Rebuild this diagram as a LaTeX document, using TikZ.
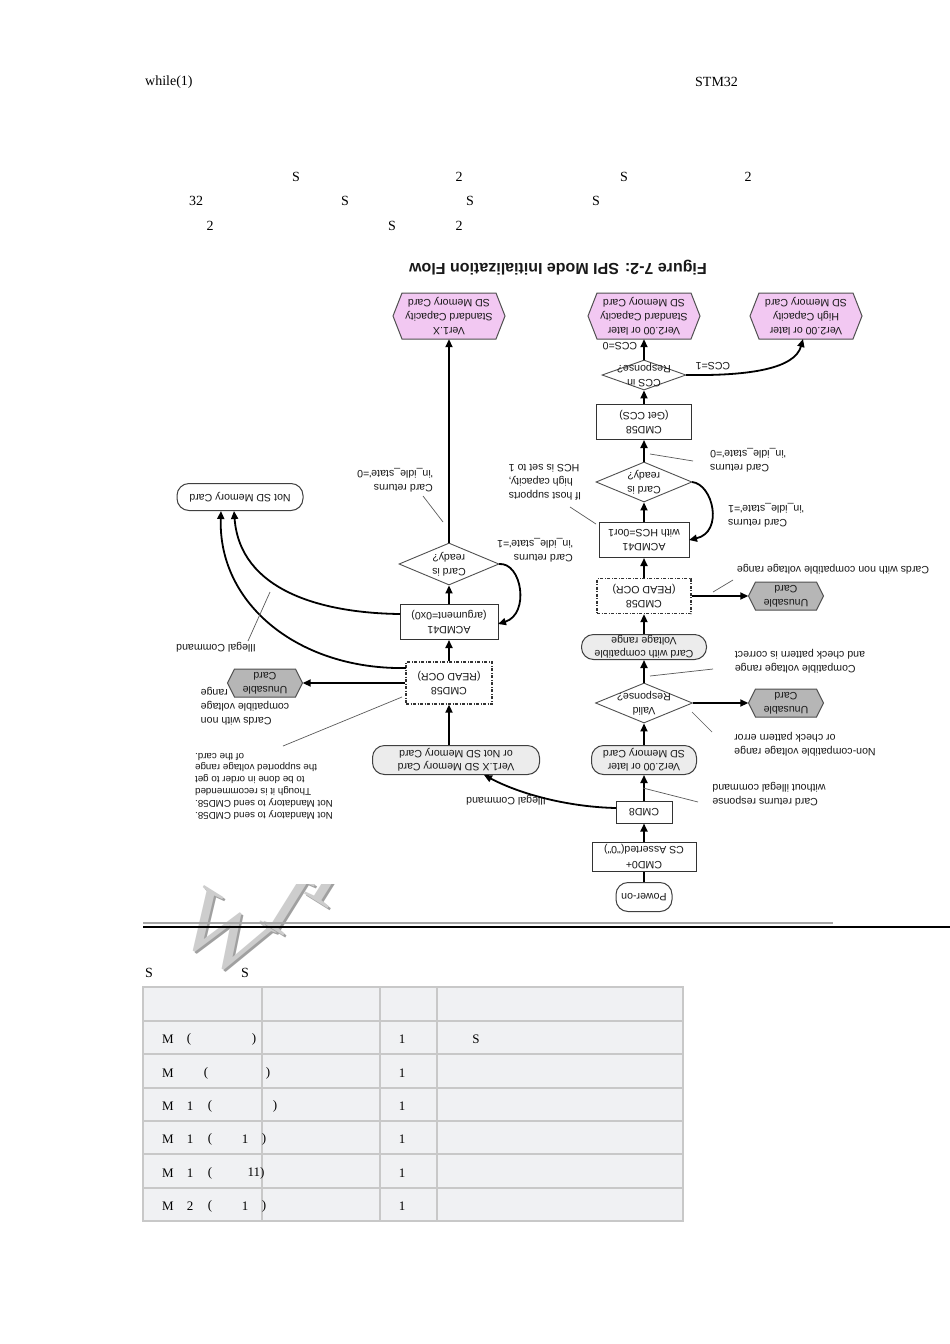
\documentclass[tikz,border=0pt]{standalone}
\usepackage{fontspec}
\setmainfont{Liberation Serif}
\newfontfamily\dsans{Liberation Sans}
\usetikzlibrary{shapes.geometric,shapes.misc,calc,arrows.meta,backgrounds}
\definecolor{pinkc}{RGB}{242,200,242}
\definecolor{hexedge}{RGB}{80,80,80}
\definecolor{unusc}{RGB}{182,182,182}
\definecolor{pillc}{RGB}{236,236,236}
\definecolor{ptrc}{RGB}{90,90,90}
\definecolor{tbg}{RGB}{240,241,243}
\definecolor{tline}{RGB}{200,200,200}
\definecolor{wmc}{RGB}{205,205,205}
\definecolor{wmd}{RGB}{160,160,160}
\newcommand\zt[1]{\smash{\raisebox{-2.6pt}{\makebox[0pt]{\begin{tabular}{@{}c@{}}#1\end{tabular}}}}}
\newcommand\hexp[4]{(#1.center) ++(-#2,0) -- ++(#4,-#3) -- ++({2*#2-2*#4},0) -- ++(#4,#3) -- ++(-#4,#3) -- ++({-2*#2+2*#4},0) -- cycle}
\tikzset{
  doc/.style={font=\fontsize{14}{16}\selectfont, inner sep=0pt, text=black},
  tdoc/.style={font=\fontsize{13}{15}\selectfont, inner sep=0pt, text=black},
  dtxt/.style={font=\dsans\fontsize{10.6}{14}\selectfont, text=black!90, rotate=180, inner sep=0pt},
  boxn/.style={dtxt, align=center, draw=black!80, line width=1pt, fill=white},
  dboxn/.style={boxn, dash pattern=on 3pt off 1.5pt on 1pt off 1.5pt, line width=1.3pt},
  dia/.style={dtxt, shape=diamond, draw=hexedge, line width=0.9pt, fill=white},
  pill/.style={dtxt, font=\dsans\fontsize{10.6}{13}\selectfont, align=center, draw=black!75, line width=1pt, fill=pillc, rounded corners=12pt},
  hexn/.style={dtxt, align=center, minimum width=112, minimum height=46},
  unusn/.style={dtxt, align=center, minimum width=75, minimum height=28},
  lab/.style={dtxt},
  arr/.style={line width=1.8pt, -{Triangle[length=8pt,width=7pt]}},
  ptrl/.style={draw=ptrc, line width=0.7pt},
  wmark/.style={font=\fontsize{92}{92}\selectfont, rotate=-32, inner sep=0pt}
}
\begin{document}
\begin{tikzpicture}[x=1pt,y=-1pt]
\begin{scope}[on background layer]
\fill[white] (0,0) rectangle (950,1344);
\end{scope}
\useasboundingbox (0,0) rectangle (950,1344);

% ---------- document text ----------
\node[doc, anchor=west] (w1) at (145,82) {while(1)};
\node[doc, anchor=west] (stm) at (695,82) {STM32};
\node[doc] (s1) at (296,177) {S};
\node[doc] (s2) at (459,177) {2};
\node[doc] (s3) at (624,177) {S};
\node[doc] (s4) at (748,177) {2};
\node[doc] (s5) at (196,201) {32};
\node[doc] (s6) at (345,201) {S};
\node[doc] (s7) at (470,201) {S};
\node[doc] (s8) at (596,201) {S};
\node[doc] (s9) at (210,226) {2};
\node[doc] (s10) at (392,226) {S};
\node[doc] (s11) at (459,226) {2};

% ---------- diagram title ----------
\node[dtxt, font=\dsans\bfseries\fontsize{16}{18}\selectfont] (title) at (558,268) {Figure 7-2: SPI Mode Initialization Flow};

% ---------- right column ----------
\node[hexn] (h2) at (644,316) {Ver2.00 or later\\Standard Capacity\\SD Memory Card};
\node[hexn] (h3) at (806,316) {Ver2.00 or later\\High Capacity\\SD Memory Card};
\node[dia, minimum width=84, minimum height=30] (d2) at (644,375) {\zt{CCS in\\Response?}};
\node[boxn, minimum width=95, minimum height=35] (g58) at (644,422) {CMD58\\(Get CCS)};
\node[dia, minimum width=96, minimum height=40] (d3) at (644,482) {\zt{Card is\\ready?}};
\node[boxn, minimum width=90, minimum height=35] (a41R) at (644,540) {ACMD41\\with HCS=0or1};
\node[dboxn, minimum width=94, minimum height=35] (r58R) at (644,596) {CMD58\\(READ OCR)};
\node[unusn] (uR1) at (786,596) {Unusable\\Card};
\node[pill, minimum width=125, minimum height=25] (pcv) at (644,647) {Card with compatible\\Voltage range};
\node[dia, minimum width=97, minimum height=40] (d4) at (644,703) {\zt{Valid\\Response?}};
\node[unusn] (uR2) at (786,703) {Unusable\\Card};
\node[pill, minimum width=105, minimum height=29] (p2) at (644,760) {Ver2.00 or later\\SD Memory Card};
\node[boxn, minimum width=56, minimum height=22] (cmd8) at (644,812) {CMD8};
\node[boxn, font=\dsans\fontsize{10.6}{15}\selectfont, minimum width=104, minimum height=29] (cmd0) at (644,857) {CMD0+\\CS Asserted("0")};
\node[pill, fill=white, minimum width=56, minimum height=29] (pwr) at (644,897) {Power-on};

% ---------- left column ----------
\node[hexn] (h1) at (449,316) {Ver1.X\\Standard Capacity\\SD Memory Card};
\node[dia, minimum width=100, minimum height=42] (d1) at (449,564) {\zt{Card is\\ready?}};
\node[boxn, minimum width=98, minimum height=35] (a41L) at (449,622) {ACMD41\\(argument=0x0)};
\node[dboxn, minimum width=86, minimum height=42] (r58L) at (449,683) {CMD58\\(READ OCR)};
\node[pill, minimum width=167, minimum height=29] (p1x) at (456,760) {Ver1.X SD Memory Card\\or Not SD Memory Card};
\node[unusn] (uL) at (265,683) {Unusable\\Card};
\node[pill, fill=white, minimum width=126, minimum height=27] (nsd) at (240,497) {Not SD Memory Card};

% ---------- hexagon outlines ----------
\begin{scope}[on background layer]
\filldraw[fill=pinkc, draw=hexedge, line width=1pt] \hexp{h1}{56}{23}{9};
\filldraw[fill=pinkc, draw=hexedge, line width=1pt] \hexp{h2}{56}{23}{9};
\filldraw[fill=pinkc, draw=hexedge, line width=1pt] \hexp{h3}{56}{23}{9};
\filldraw[fill=unusc, draw=hexedge, line width=1pt] \hexp{uL}{37.5}{14}{7};
\filldraw[fill=unusc, draw=hexedge, line width=1pt] \hexp{uR1}{37.5}{14}{7};
\filldraw[fill=unusc, draw=hexedge, line width=1pt] \hexp{uR2}{37.5}{14}{7};
\end{scope}

% ---------- labels ----------
\node[lab] (tccs0) at (620,346) {CCS=0};
\node[lab] (tccs1) at (713,366) {CCS=1};
\node[lab, align=left] (tr0L) at (395,480) {Card returns\\'in\_idle\_state'=0};
\node[lab, align=left] (tr1L) at (535,550) {Card returns\\'in\_idle\_state'=1};
\node[lab, align=right] (thcs) at (545,482) {If host supports\\high capacity,\\HCS is set to 1};
\node[lab, align=right] (tr0R) at (748,460) {Card returns\\'in\_idle\_state'=0};
\node[lab, align=right] (tr1R) at (766,515) {Card returns\\'in\_idle\_state'=1};
\node[lab] (tnc) at (833,569) {Cards with non compatible voltage range};
\node[lab, align=right] (tcv) at (800,661) {Compatible voltage range\\and check pattern is correct};
\node[lab, align=right] (tncv) at (805,744) {Non-compatible voltage range\\or check pattern error};
\node[lab, align=right] (tresp) at (769,794) {Card returns response\\without illegal command};
\node[lab] (till1) at (506,800) {Illegal Command};
\node[lab] (till2) at (216,647) {Illegal Command};
\node[lab, align=right] (tunL) at (245,706) {Cards with non\\compatible voltage\\range};
\node[lab, font=\dsans\fontsize{9.8}{11.8}\selectfont, align=right] (tnote) at (264,786) {Not Mandatory to send CMD58.\\Not Mandatory to send CMD58.\\Though it is recommended\\to be done in order to get\\the supported voltage range\\of the card.};

% ---------- connectors ----------
\draw[line width=1.8pt] (pwr) -- (cmd0);
\draw[arr] (cmd0) -- (cmd8);
\draw[arr] (cmd8) -- (p2);
\draw[arr] (p2) -- (d4);
\draw[arr] (d4) -- (pcv);
\draw[arr] (pcv) -- (r58R);
\draw[arr] (r58R) -- (a41R);
\draw[arr] (a41R) -- (d3);
\draw[arr] (d3) -- (g58);
\draw[arr] (g58) -- (d2);
\draw[arr] (d2) -- (h2);
\draw[arr] (r58R) -- (uR1);
\draw[arr] (d4) -- (uR2);
\draw[arr] ($(d2.center)+(42,0)$) .. controls (752,376) and (795,368) .. ($(h3.center)+(-3,23)$);
\draw[arr] ($(d3.center)+(48,0)$) .. controls (713,484) and (724,532) .. ($(a41R.center)+(45,0)$);
\draw[arr] ($(cmd8.center)+(-28,-4)$) .. controls (570,807) and (522,795) .. ($(p1x.center)+(28,15)$);

\draw[arr] (p1x.south -| r58L.center) -- (r58L);
\draw[arr] (r58L) -- (a41L);
\draw[arr] (a41L) -- (d1);
\draw[arr] (d1) -- (h1);
\draw[arr] (r58L) -- (uL);
\draw[arr] ($(d1.center)+(50,0)$) .. controls (522,562) and (530,614) .. ($(a41L.center)+(49,2)$);
\draw[arr] ($(r58L.center)+(-43,-15)$) .. controls (300,670) and (218,605) .. ($(nsd.center)+(-19,14)$);
\draw[arr] ($(a41L.center)+(-49,-8)$) .. controls (320,613) and (240,590) .. ($(nsd.center)+(-6,14)$);

% ---------- pointer lines ----------
\draw[ptrl] (423,496) -- (443,522);
\draw[ptrl] (248,641) -- (270,592);
\draw[ptrl] (402,697) -- (283,746);
\draw[ptrl] (650,454) -- (693,461);
\draw[ptrl] (570,507) -- (596,524);
\draw[ptrl] (713,592) -- (733,580);
\draw[ptrl] (650,676) -- (713,669);
\draw[ptrl] (692,712) -- (712,732);
\draw[ptrl] (643,788) -- (698,802);

% ---------- watermark ----------
\begin{scope}
\clip (150,884) rectangle (360,990);
\node[wmark, text=wmd] (wmWs) at (227,937) {W};
\node[wmark, text=wmc] (wmW) at (225,935) {W};
\node[wmark, text=wmd] (wmIs) at (291,906) {I};
\node[wmark, text=wmc] (wmI) at (289,904) {I};
\node[wmark, text=wmd] (wmTs) at (334,878) {T};
\node[wmark, text=wmc] (wmT) at (332,876) {T};
\end{scope}

% ---------- rules ----------
\draw[gray!70, line width=1.5pt] (143,923) -- (833,923);
\draw[black, line width=2.2pt] (143,927) -- (950,927);

% ---------- table ----------
\node[doc] (ts1) at (149,973) {S};
\node[doc] (ts2) at (245,973) {S};
\fill[tbg] (143,987) rectangle (683,1221);
\foreach \yy in {1021,1054,1088,1121,1154,1188} \draw[tline, line width=1.3pt] (143,\yy) -- (683,\yy);
\foreach \xx in {262,380,437} \draw[tline, line width=1.3pt] (\xx,987) -- (\xx,1221);
\draw[tline, line width=1.5pt] (143,987) rectangle (683,1221);

\foreach \yy in {1039,1073,1106,1139,1173,1206} {
  \node[tdoc] at (168,\yy) {M};
  \node[tdoc] at (402,\yy) {1};
}
\node[tdoc] (r1a) at (189,1039) {(};
\node[tdoc] (r1b) at (254,1039) {)};
\node[tdoc] (r1c) at (476,1039) {S};
\node[tdoc] (r2a) at (206,1073) {(};
\node[tdoc] (r2b) at (268,1073) {)};
\node[tdoc] (r3a) at (190,1106) {1};
\node[tdoc] (r3b) at (210,1106) {(};
\node[tdoc] (r3c) at (275,1106) {)};
\node[tdoc] (r4a) at (190,1139) {1};
\node[tdoc] (r4b) at (210,1139) {(};
\node[tdoc] (r4c) at (245,1139) {1};
\node[tdoc] (r4d) at (264,1139) {)};
\node[tdoc] (r5a) at (190,1173) {1};
\node[tdoc] (r5b) at (210,1173) {(};
\node[tdoc] (r5c) at (256,1173) {11)};
\node[tdoc] (r6a) at (190,1206) {2};
\node[tdoc] (r6b) at (210,1206) {(};
\node[tdoc] (r6c) at (245,1206) {1};
\node[tdoc] (r6d) at (264,1206) {)};
\end{tikzpicture}
\end{document}
